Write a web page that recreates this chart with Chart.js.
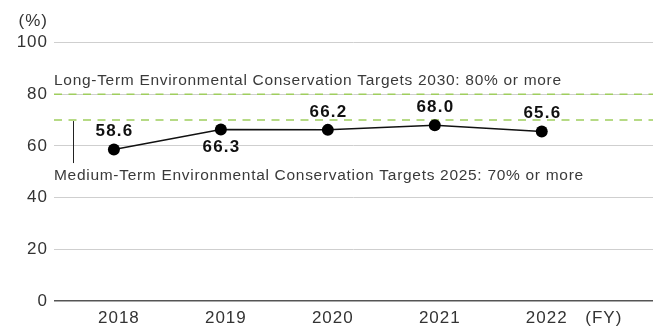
<!DOCTYPE html>
<html>
<head>
<meta charset="utf-8">
<script src="https://cdn.jsdelivr.net/npm/chart.js@4"></script>
<style>
html,body{margin:0;padding:0;background:#fff;}
#wrap{width:653px;height:326px;position:relative;}
canvas{display:block;}
</style>
</head>
<body>
<div id="wrap"><canvas id="c" width="653" height="326" style="width:653px;height:326px"></canvas></div>
<script>
const years = [2018, 2019, 2020, 2021, 2022];
const values = [58.6, 66.3, 66.2, 68.0, 65.6];
const labelBelow = [false, true, false, false, false];
const yTicks = [0, 20, 40, 60, 80, 100];
const longTermTarget = 80;
const mediumTermTarget = 70;
const longTermText = 'Long-Term Environmental Conservation Targets 2030: 80% or more';
const mediumTermText = 'Medium-Term Environmental Conservation Targets 2025: 70% or more';
const yUnit = '(%)';
const xUnit = '(FY)';

const X_MIN = 2017.44, X_MAX = 2023.04;
const FONT = '"Liberation Sans", Arial, Helvetica, sans-serif';

const annot = {
  id: 'annot',
  beforeDraw(chart) { chart.ctx.letterSpacing = '1px'; },
  afterDatasetsDraw(chart) {
    const ctx = chart.ctx;
    const xs = chart.scales.x, ys = chart.scales.y;
    const area = chart.chartArea;
    ctx.save();
    // data labels
    ctx.letterSpacing = '1.2px';
    ctx.font = 'bold 17px ' + FONT;
    ctx.fillStyle = '#111';
    ctx.textAlign = 'center';
    ctx.textBaseline = 'middle';
    values.forEach((v, i) => {
      const px = xs.getPixelForValue(years[i]);
      const py = ys.getPixelForValue(v);
      ctx.fillText(v.toFixed(1), px + 0.6, labelBelow[i] ? py + 18 : py - 18);
    });
    // target texts
    ctx.letterSpacing = '0.7px';
    ctx.font = '15.5px ' + FONT;
    ctx.fillStyle = '#3a3a3a';
    ctx.textAlign = 'left';
    ctx.fillText(longTermText, area.left, ys.getPixelForValue(longTermTarget) - 13);
    ctx.fillText(mediumTermText, area.left, ys.getPixelForValue(mediumTermTarget) + 56);
    // vertical marker
    ctx.strokeStyle = '#222';
    ctx.lineWidth = 1;
    ctx.beginPath();
    const vx = area.left + 19.5;
    ctx.moveTo(vx, ys.getPixelForValue(mediumTermTarget) + 1);
    ctx.lineTo(vx, ys.getPixelForValue(mediumTermTarget) + 43);
    ctx.stroke();
    // units
    ctx.letterSpacing = '1px';
    ctx.font = '17px ' + FONT;
    ctx.fillStyle = '#333';
    ctx.textAlign = 'right';
    ctx.fillText(yUnit, area.left - 6, area.top - 21);
    ctx.textAlign = 'center';
    ctx.fillText(xUnit, xs.getPixelForValue(2022.58), area.bottom + 17);
    ctx.restore();
  }
};

const targetLine = (val) => ({
  type: 'line',
  data: [{x: X_MIN, y: val}, {x: X_MAX, y: val}],
  borderColor: '#9fce5e',
  borderWidth: 1.5,
  borderDash: [8, 6.5],
  pointRadius: 0,
  fill: false,
  order: 2
});

new Chart(document.getElementById('c'), {
  type: 'line',
  data: {
    datasets: [
      targetLine(longTermTarget),
      targetLine(mediumTermTarget),
      {
        data: years.map((y, i) => ({x: y, y: values[i]})),
        borderColor: '#111',
        borderWidth: 1.5,
        pointRadius: 6,
        pointBackgroundColor: '#000',
        pointBorderColor: '#000',
        pointBorderWidth: 0,
        tension: 0,
        order: 1
      }
    ]
  },
  options: {
    responsive: false,
    animation: false,
    devicePixelRatio: 1,
    layout: {autoPadding: false, padding: {top: 42.5, left: 0, right: 0, bottom: 0}},
    plugins: {legend: {display: false}, tooltip: {enabled: false}},
    scales: {
      x: {
        type: 'linear',
        min: X_MIN, max: X_MAX,
        afterBuildTicks(scale) { scale.ticks = years.map(v => ({value: v})); },
        afterFit(scale) { scale.height = 25; },
        grid: {display: false, drawTicks: false},
        border: {display: false},
        ticks: {
          font: {family: FONT, size: 17},
          color: '#333',
          padding: 7,
          labelOffset: 5,
          maxRotation: 0,
          autoSkip: false,
          callback: (v) => String(v)
        }
      },
      y: {
        min: 0, max: 100,
        afterBuildTicks(scale) { scale.ticks = yTicks.map(v => ({value: v})); },
        afterFit(scale) { scale.width = 54; },
        grid: {
          drawTicks: false,
          color: (c) => c.tick && c.tick.value === 0 ? '#555' : '#cfcfcf',
          lineWidth: (c) => c.tick && c.tick.value === 0 ? 1.5 : 1
        },
        border: {display: false},
        ticks: {
          font: {family: FONT, size: 17},
          color: '#333',
          padding: 6
        }
      }
    }
  },
  plugins: [annot]
});
</script>
</body>
</html>
